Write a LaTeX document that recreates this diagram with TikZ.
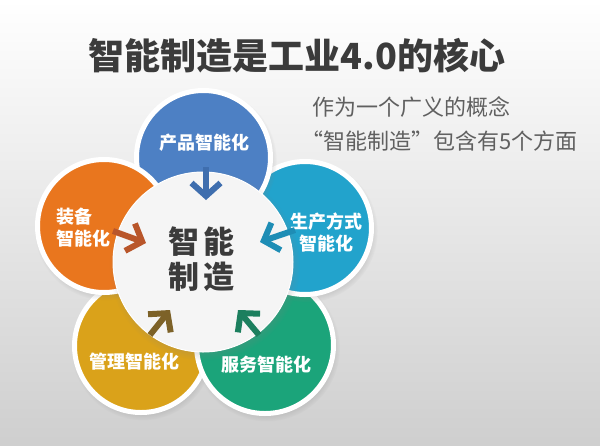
\documentclass[tikz,border=0pt]{standalone}
\usepackage{fontspec}
\setmainfont{Noto Sans CJK SC}
\usetikzlibrary{arrows.meta,shadows,fadings}
\definecolor{cblue}{HTML}{4D80C4}
\definecolor{corange}{HTML}{E9761E}
\definecolor{cteal}{HTML}{22A3CC}
\definecolor{cgold}{HTML}{DAA21A}
\definecolor{cgreen}{HTML}{1BA47A}
\definecolor{acblue}{HTML}{3F6EAE}
\definecolor{acorange}{HTML}{B9562A}
\definecolor{acteal}{HTML}{1E8DB5}
\definecolor{acgold}{HTML}{7D6228}
\definecolor{acgreen}{HTML}{1C7F5E}
\definecolor{ccore}{HTML}{F5F5F5}
\definecolor{ctitle}{HTML}{3B3B3B}
\definecolor{csub}{HTML}{606060}
\begin{document}
\begin{tikzpicture}[x=1pt,y=-1pt,
  petal/.style={circle, draw=white, line width=5pt, inner sep=0pt, outer sep=0pt,
    minimum size=#1,
    circular drop shadow={shadow scale=1.07, opacity=0.35, shadow xshift=1.5pt, shadow yshift=-3pt}},
  corecircle/.style={circle, fill=ccore, draw=white, line width=1pt, inner sep=0pt, outer sep=0pt,
    minimum size=#1,
    circular drop shadow={shadow scale=1.06, opacity=0.35, shadow xshift=1.5pt, shadow yshift=-3pt}},
  lab/.style={text=white, font=\bfseries\fontsize{18}{22}\selectfont, inner sep=0pt},
  arr/.style={draw=#1, line width=6pt, -{Straight Barb[length=13pt,width=29pt]}},
]
\useasboundingbox (0,0) rectangle (600,445);
\shade[shading angle=-30, top color=white, bottom color=black!19] (0,0) rectangle (600,445);

% title and subtitle
\node[text=ctitle, font=\bfseries\fontsize{36}{40}\selectfont, inner sep=0pt] (title) at (297,56) {智能制造是工业4.0的核心};
\node[text=csub, font=\fontsize{22}{26}\selectfont, inner sep=0pt, anchor=west] (sub1) at (312,107) {作为一个广义的概念};
\node[text=csub, font=\fontsize{22}{26}\selectfont, inner sep=0pt, anchor=west] (sub2) at (301,141) {“智能制造”包含有5个方面};

% petals (back to front)
\node[petal=133pt, fill=cgold] (gold) at (141,346) {};
\node[petal=137pt, fill=cgreen] (green) at (265,345) {};
\node[petal=133pt, fill=cteal] (teal) at (305,228) {};
\node[petal=134pt, fill=cblue] (blue) at (203.5,157.5) {};
\node[petal=133pt, fill=corange] (orange) at (104,226) {};

% core
\node[corecircle=180pt] (core) at (203,262) {};
\node[text=ctitle, font=\bfseries\fontsize{31}{35}\selectfont, inner sep=0pt, align=center] (coretext) at (201.5,259) {智\hspace{4pt}能\\制\hspace{4pt}造};

% labels
\node[lab] (bluelab) at (204,143) {产品智能化};
\node[lab, align=left, anchor=west] (orangelab) at (56,227.5) {装备\\智能化};
\node[lab, align=center] (teallab) at (326,232) {生产方式\\智能化};
\node[lab] (goldlab) at (134,362) {管理智能化};
\node[lab] (greenlab) at (266,365) {服务智能化};

% arrow ends
\coordinate (b1) at (206,167);  \coordinate (b2) at (206,200);
\coordinate (o1) at (113,231);  \coordinate (o2) at (146,243);
\coordinate (t1) at (295,230);  \coordinate (t2) at (260,242);
\coordinate (g1) at (150,335);  \coordinate (g2) at (170,310);
\coordinate (n1) at (259,335);  \coordinate (n2) at (238,310);

\draw[arr=acblue] (b1) -- (b2);
\draw[arr=acorange] (o1) -- (o2);
\draw[arr=acteal] (t1) -- (t2);
\draw[arr=acgold] (g1) -- (g2);
\draw[arr=acgreen] (n1) -- (n2);
\end{tikzpicture}
\end{document}
